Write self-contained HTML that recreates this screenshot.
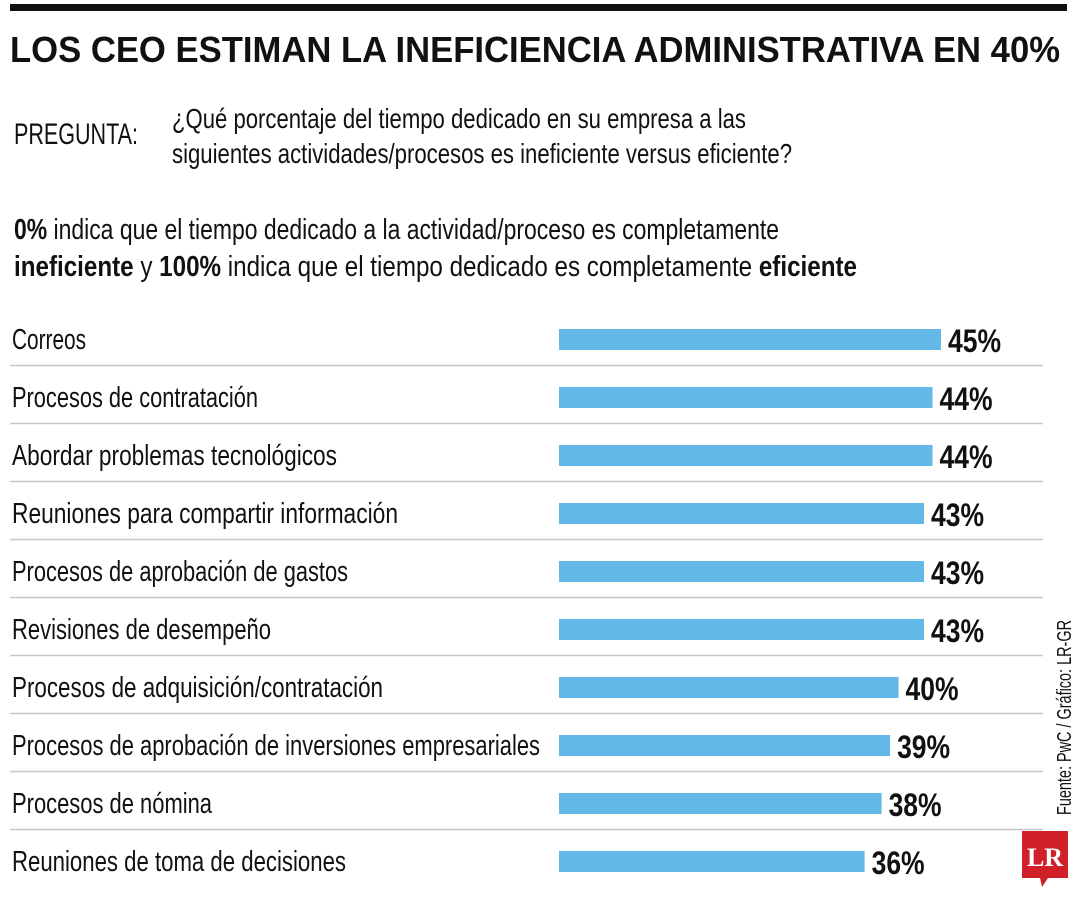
<!DOCTYPE html>
<html><head><meta charset="utf-8"><style>
html,body{margin:0;padding:0;background:#fff;}
svg{display:block;font-family:"Liberation Sans Narrow","Liberation Sans",sans-serif;}
</style></head><body>
<svg id="chart" width="1080" height="900" viewBox="0 0 1080 900">
<rect x="10" y="4" width="1057" height="7" fill="#111"/>
<text x="10" y="62" font-size="36" font-weight="bold" fill="#111" textLength="1050" lengthAdjust="spacingAndGlyphs">LOS CEO ESTIMAN LA INEFICIENCIA ADMINISTRATIVA EN 40%</text>
<text x="14" y="144" font-size="30" fill="#111" textLength="124" lengthAdjust="spacingAndGlyphs">PREGUNTA:</text>
<text x="172" y="128" font-size="28" fill="#111" textLength="574" lengthAdjust="spacingAndGlyphs">¿Qué porcentaje del tiempo dedicado en su empresa a las</text>
<text x="172" y="163" font-size="28" fill="#111" textLength="620" lengthAdjust="spacingAndGlyphs">siguientes actividades/procesos es ineficiente versus eficiente?</text>
<text x="14" y="239" font-size="29" fill="#111" textLength="765" lengthAdjust="spacingAndGlyphs"><tspan font-weight="bold">0%</tspan> indica que el tiempo dedicado a la actividad/proceso es completamente</text>
<text x="14" y="276" font-size="29" fill="#111" textLength="843" lengthAdjust="spacingAndGlyphs"><tspan font-weight="bold">ineficiente</tspan> y <tspan font-weight="bold">100%</tspan> indica que el tiempo dedicado es completamente <tspan font-weight="bold">eficiente</tspan></text>
<g id="rows"></g>
<text transform="translate(1071,815) rotate(-90)" font-size="20" fill="#111" textLength="195" lengthAdjust="spacingAndGlyphs">Fuente: PwC / Gráfico: LR-GR</text>
<g>
<path d="M1022 831 H1068 V878 H1048 L1042 887 L1040 878 H1022 Z" fill="#d0202a"/>
<text x="1045" y="866" font-size="26" font-weight="bold" fill="#fff" text-anchor="middle" font-family="Liberation Serif,serif">LR</text>
</g>
</svg>
<script>
const categories=["Correos","Procesos de contratación","Abordar problemas tecnológicos","Reuniones para compartir información","Procesos de aprobación de gastos","Revisiones de desempeño","Procesos de adquisición/contratación","Procesos de aprobación de inversiones empresariales","Procesos de nómina","Reuniones de toma de decisiones"];
const values=[45,44,44,43,43,43,40,39,38,36];
const valueLabels=["45%","44%","44%","43%","43%","43%","40%","39%","38%","36%"];
const labelWidths=[74,246,325,386,336,259,371,528,200,334];
const NS="http://www.w3.org/2000/svg";
const g=document.getElementById('rows');
const x0=559, pxPer=382/45;
const xScale=v=>x0+v*pxPer;
const rowY=i=>329+58*i;
categories.forEach((c,i)=>{
  const y=rowY(i);
  const t=document.createElementNS(NS,'text');
  t.setAttribute('x',12);t.setAttribute('y',y+20);t.setAttribute('font-size','29');t.setAttribute('fill','#111');
  t.setAttribute('textLength',labelWidths[i]);t.setAttribute('lengthAdjust','spacingAndGlyphs');
  t.textContent=c;
  
  
  g.appendChild(t);
  const r=document.createElementNS(NS,'rect');
  r.setAttribute('x',x0);r.setAttribute('y',y);r.setAttribute('width',xScale(values[i])-x0);r.setAttribute('height',21);r.setAttribute('fill','#62b8e6');
  
  
  g.appendChild(r);
  const v=document.createElementNS(NS,'text');
  v.setAttribute('x',xScale(values[i])+7);v.setAttribute('y',y+23);v.setAttribute('font-size','32');v.setAttribute('font-weight','bold');v.setAttribute('fill','#111');
  v.setAttribute('textLength',53);v.setAttribute('lengthAdjust','spacingAndGlyphs');
  v.textContent=valueLabels[i];
  
  
  g.appendChild(v);
  if(i<categories.length-1){
    const l=document.createElementNS(NS,'line');
    l.setAttribute('x1',10);l.setAttribute('x2',1043);l.setAttribute('y1',y+36.5);l.setAttribute('y2',y+36.5);l.setAttribute('stroke','#c8c8c8');l.setAttribute('stroke-width','1.5');
    
    
    g.appendChild(l);
  }
});
</script>
</body></html>
